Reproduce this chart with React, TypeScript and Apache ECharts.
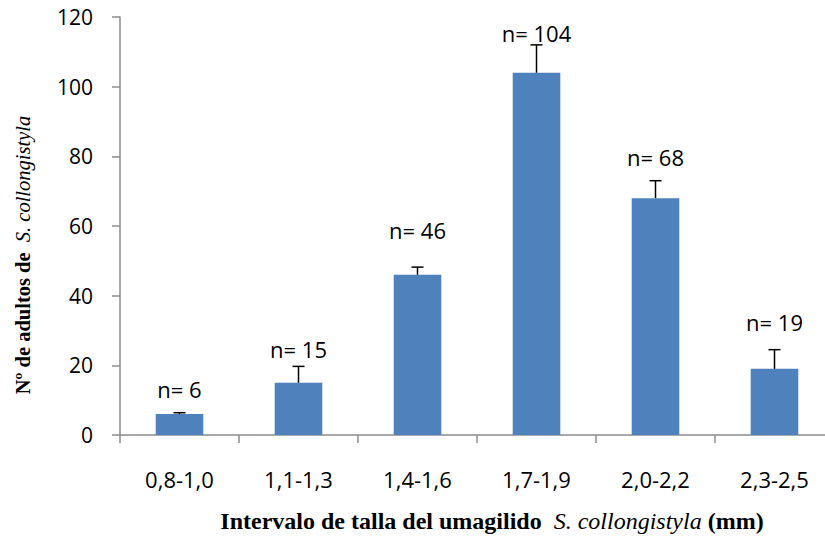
import React, { useEffect, useRef } from "react";
import * as echarts from "echarts";

const categories = ["0,8-1,0", "1,1-1,3", "1,4-1,6", "1,7-1,9", "2,0-2,2", "2,3-2,5"];
const counts = [6, 15, 46, 104, 68, 19];
const errors = [0.4, 4.7, 2.2, 8, 5, 5.5];
const labelGaps = [24, 17, 37, 12, 24, 28];
const yTicks = { min: 0, max: 120, interval: 20 };

export default function App() {
  const ref = useRef<HTMLDivElement>(null);
  useEffect(() => {
    document.body.style.margin = "0";
    if (!ref.current) return;
    const chart = echarts.init(ref.current, undefined, { renderer: "svg" });
    const errData = counts.map((v, i) => [i, v, errors[i], labelGaps[i]]);
    chart.setOption({
      animation: false,
      grid: { left: 120, top: 17, width: 714, height: 418, containLabel: false, outerBoundsMode: "none" },
      graphic: [
        {
          type: "text",
          x: 23,
          y: 255,
          rotation: Math.PI / 2,
          style: {
            text: "{b|Nº de adultos de  }{i|S. collongistyla}",
            align: "center",
            verticalAlign: "middle",
            rich: {
              b: { fontFamily: "Liberation Serif", fontWeight: "bold", fontSize: 20.5, fill: "#000" },
              i: { fontFamily: "Liberation Serif", fontStyle: "italic", fontSize: 20.5, fill: "#000" },
            },
          },
        },
        {
          type: "text",
          x: 492,
          y: 521,
          style: {
            text: "{b|Intervalo de talla del umagilido  }{i|S. collongistyla}{b| (mm)}",
            align: "center",
            verticalAlign: "middle",
            rich: {
              b: { fontFamily: "Liberation Serif", fontWeight: "bold", fontSize: 24, fill: "#000" },
              i: { fontFamily: "Liberation Serif", fontStyle: "italic", fontSize: 24, fill: "#000" },
            },
          },
        },
      ],
      xAxis: {
        type: "category",
        data: categories,
        axisLine: { lineStyle: { color: "#8c8c8c", width: 1.5 } },
        axisTick: { show: true, length: 8, inside: false, alignWithLabel: false, lineStyle: { color: "#8c8c8c", width: 1.5 } },
        axisLabel: { margin: 33, fontFamily: "Open Sans", fontSize: 22, color: "#000" },
        splitLine: { show: false },
      },
      yAxis: {
        type: "value",
        min: yTicks.min,
        max: yTicks.max,
        interval: yTicks.interval,
        axisLine: { show: true, lineStyle: { color: "#8c8c8c", width: 1.5 } },
        axisTick: { show: true, length: 8, lineStyle: { color: "#8c8c8c", width: 1.5 } },
        axisLabel: { margin: 27, fontFamily: "Open Sans", fontSize: 21, color: "#000" },
        splitLine: { show: false },
      },
      series: [
        {
          type: "bar",
          data: counts,
          barWidth: "40%",
          itemStyle: { color: "#4F81BD" },
        },
        {
          type: "custom",
          data: errData,
          z: 5,
          renderItem: (params: any, api: any) => {
            const i = api.value(0);
            const v = api.value(1);
            const e = api.value(2);
            const gap = api.value(3);
            const base = api.coord([i, v]);
            const top = api.coord([i, v + e]);
            const half = 6;
            return {
              type: "group",
              children: [
                {
                  type: "line",
                  shape: { x1: top[0], y1: base[1], x2: top[0], y2: top[1] },
                  style: { stroke: "#000", lineWidth: 1.5 },
                },
                {
                  type: "line",
                  shape: { x1: top[0] - half, y1: top[1], x2: top[0] + half, y2: top[1] },
                  style: { stroke: "#000", lineWidth: 1.5 },
                },
                {
                  type: "text",
                  x: top[0],
                  y: top[1] - gap,
                  style: {
                    text: "n= " + v,
                    fontFamily: "Open Sans",
                    fontSize: 22,
                    fill: "#000",
                    align: "center",
                    verticalAlign: "middle",
                  },
                },
              ],
            };
          },
        },
      ],
    });
    return () => chart.dispose();
  }, []);
  return <div ref={ref} style={{ width: 825, height: 537 }} />;
}
